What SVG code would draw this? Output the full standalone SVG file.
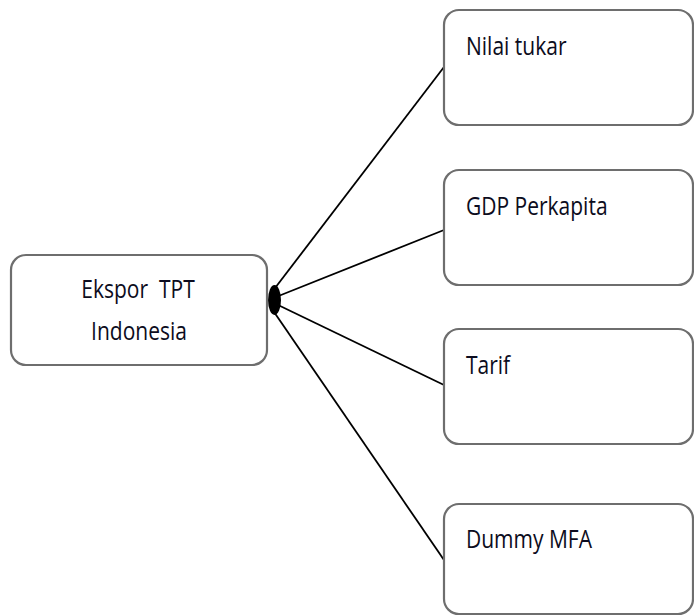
<svg xmlns="http://www.w3.org/2000/svg" width="694" height="616" viewBox="0 0 694 616">
  <style>
    .box { fill: #ffffff; stroke: #6e6e6e; stroke-width: 2.2; }
    .lbl { font-family: "Open Sans", "Liberation Sans", sans-serif; font-size: 21px; fill: #0c0c20; white-space: pre; }
    .conn { stroke: #000000; stroke-width: 1.8; fill: none; }
  </style>
  <rect width="694" height="616" fill="#ffffff"/>

  <g id="connectors">
    <line class="conn" x1="272" y1="292" x2="444" y2="67"/>
    <line class="conn" x1="276" y1="297" x2="444" y2="230"/>
    <line class="conn" x1="276" y1="304" x2="444" y2="385"/>
    <line class="conn" x1="272" y1="309" x2="444" y2="560"/>
    <ellipse cx="274.5" cy="300" rx="6.5" ry="15" fill="#000000"/>
  </g>

  <g id="ekspor">
    <rect class="box" x="11" y="255" width="256" height="110" rx="15"/>
    <text class="lbl" text-anchor="middle" xml:space="preserve" transform="translate(138,298) scale(1,1.2)">Ekspor  TPT</text>
    <text class="lbl" text-anchor="middle" transform="translate(139,340) scale(1,1.2)">Indonesia</text>
  </g>

  <g id="nilai-tukar">
    <rect class="box" x="444" y="10" width="249" height="115" rx="15"/>
    <text class="lbl" transform="translate(466,55) scale(1,1.2)">Nilai tukar</text>
  </g>

  <g id="gdp-perkapita">
    <rect class="box" x="444" y="170" width="249" height="115" rx="15"/>
    <text class="lbl" transform="translate(466,215) scale(1,1.2)">GDP Perkapita</text>
  </g>

  <g id="tarif">
    <rect class="box" x="444" y="329" width="249" height="115" rx="15"/>
    <text class="lbl" transform="translate(466,374) scale(1,1.2)">Tarif</text>
  </g>

  <g id="dummy-mfa">
    <rect class="box" x="444" y="504" width="249" height="110" rx="15"/>
    <text class="lbl" transform="translate(466,548) scale(1,1.2)">Dummy MFA</text>
  </g>
</svg>
